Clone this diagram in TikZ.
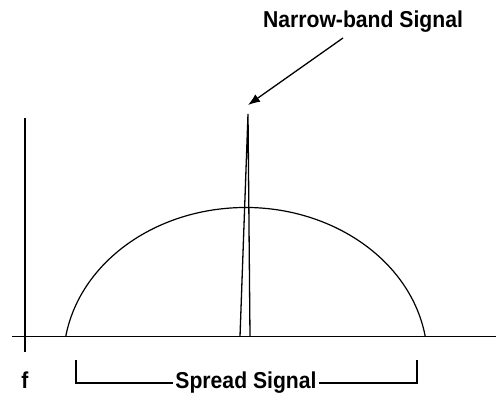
\documentclass[tikz,border=0pt]{standalone}
\usepackage{fontspec}
\setmainfont{Liberation Sans}[FakeStretch=0.92]
\usetikzlibrary{calc,arrows.meta}

\begin{document}
\begin{tikzpicture}[x=1pt,y=1pt,
    lbl/.style={font=\bfseries\fontsize{23}{25}\selectfont,inner sep=2pt}]
  \useasboundingbox (0,0) rectangle (496,394);
  % axes
  \draw[line width=1.5pt] (25,276) -- (25,42);
  \draw[line width=1.5pt] (12,57.5) -- (496,57.5);
  \node[lbl] (f) at (25,14) {f};
  % spread spectrum
  \draw[line width=1.2pt] (245.5,33.5) ++(9:182 and 153)
    arc[start angle=9,end angle=171,x radius=182,y radius=153];
  % narrow band spike
  \coordinate (peak) at (248,280);
  \draw[line width=1.3pt,line join=miter] (240,57.5) -- (peak) -- (250,57.5);
  \node[lbl] (nb) at (363,372) {Narrow-band Signal};
  \coordinate (nbfoot) at (343,356);
  \draw[line width=1.3pt,-{Latex[length=12pt,width=9pt]}] (nbfoot) -- (248,289);
  % bracket
  \node[lbl] (ss) at (246,11) {Spread Signal};
  \coordinate (bl) at (76,34);
  \coordinate (br) at (417,34);
  \draw[line width=2pt] (bl) |- (ss.west);
  \draw[line width=2pt] (br) |- (ss.east);
\end{tikzpicture}
\end{document}
